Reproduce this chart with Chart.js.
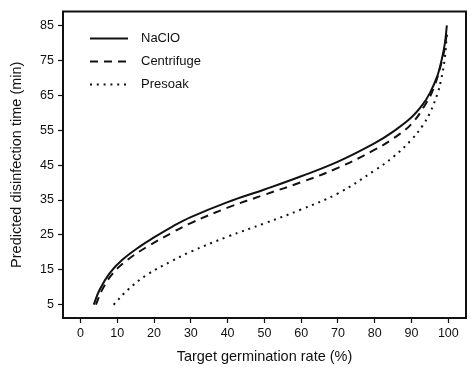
<!DOCTYPE html>
<html>
<head>
<meta charset="utf-8">
<script src="https://cdn.jsdelivr.net/npm/chart.js@4/dist/chart.umd.min.js"></script>
<style>
html,body{margin:0;padding:0;background:#fff;}
#wrap{width:476px;height:379px;}
</style>
</head>
<body>
<div id="wrap"><canvas id="c" width="476" height="379"></canvas></div>
<script>
const seriesNames = ["NaClO", "Centrifuge", "Presoak"];

const naclo_x = [3.6, 5.2, 7.9, 11.3, 16.3, 20, 25, 30, 40, 50, 60, 70, 80, 85, 90, 93, 95, 97, 98, 99, 99.6];
const naclo_y = [5, 9.3, 14, 17.8, 21.8, 24.3, 27.4, 30.1, 34.4, 38, 41.8, 46, 51.3, 54.6, 58.7, 62.3, 65.7, 70.5, 74.3, 79.5, 85];

const centrifuge_x = [4.2, 5.9, 8.8, 12.7, 18.1, 25, 30, 40, 50, 60, 70, 80, 85, 90, 94, 96, 98, 99, 99.7];
const centrifuge_y = [5, 9.3, 14, 17.8, 21.6, 25.7, 28.4, 32.8, 36.5, 40.1, 44.2, 49.4, 52.6, 56.8, 62.8, 67, 73.8, 78.5, 84];

const presoak_x = [9, 12.9, 18.1, 25, 30, 40, 50, 60, 70, 80, 85, 90, 93, 95, 97, 98, 99, 99.6];
const presoak_y = [5, 9.3, 13.6, 17.6, 20.2, 24.5, 28.3, 32.3, 36.9, 43.5, 47.3, 52.3, 56.3, 60, 65.3, 69.3, 75.3, 82.5];

const xTicks = [0, 10, 20, 30, 40, 50, 60, 70, 80, 90, 100];
const yTicks = [5, 15, 25, 35, 45, 55, 65, 75, 85];

function pts(xs, ys){ return xs.map((x,i)=>({x:x, y:ys[i]})); }

const styles = [
  {borderDash: [], borderWidth: 2, cap: 'butt'},
  {borderDash: [8, 6], borderWidth: 2, cap: 'butt'},
  {borderDash: [2, 4.8], borderWidth: 2, cap: 'butt'}
];

const FONT = "'Liberation Sans', Arial, Helvetica, sans-serif";
const INK = "#111";

const boxPlugin = {
  id: 'box',
  afterDraw(chart){
    const {ctx, chartArea: a} = chart;
    ctx.save();
    ctx.strokeStyle = INK;
    ctx.lineWidth = 2;
    ctx.strokeRect(a.left, a.top, a.right - a.left, a.bottom - a.top);
    // legend
    const lx0 = a.left + 27, lx1 = a.left + 65, tx = a.left + 78;
    const rows = [a.top + 27, a.top + 50, a.top + 73];
    ctx.font = "13px " + FONT;
    ctx.textBaseline = "middle";
    ctx.fillStyle = INK;
    chart.data.datasets.forEach((ds, i) => {
      ctx.beginPath();
      ctx.setLineDash(ds.borderDash);
      ctx.lineWidth = ds.borderWidth;
      ctx.lineCap = ds.borderCapStyle || 'butt';
      ctx.moveTo(lx0, rows[i]);
      ctx.lineTo(lx1, rows[i]);
      ctx.stroke();
      ctx.setLineDash([]);
      ctx.fillText(ds.label, tx, rows[i]);
    });
    ctx.restore();
  }
};

const datasets = [
  pts(naclo_x, naclo_y),
  pts(centrifuge_x, centrifuge_y),
  pts(presoak_x, presoak_y)
].map((d, i) => ({
  label: seriesNames[i],
  data: d,
  borderColor: INK,
  backgroundColor: INK,
  borderWidth: styles[i].borderWidth,
  borderDash: styles[i].borderDash,
  borderCapStyle: styles[i].cap,
  pointRadius: 0,
  fill: false,
  tension: 0.4
}));

new Chart(document.getElementById('c'), {
  type: 'line',
  data: { datasets },
  plugins: [boxPlugin],
  options: {
    responsive: false,
    animation: false,
    layout: { padding: { top: 9, right: 10, left: 0, bottom: 0 } },
    plugins: { legend: { display: false }, tooltip: { enabled: false } },
    scales: {
      x: {
        type: 'linear',
        min: -4.75,
        max: 104.8,
        afterBuildTicks(s){ s.ticks = xTicks.map(v => ({value: v})); },
        afterFit(s){ s.height = 61; },
        border: { display: false },
        grid: { display: true, drawOnChartArea: false, drawTicks: true, tickLength: 5, color: INK, tickColor: INK, tickWidth: 1.2 },
        ticks: { color: INK, font: { family: FONT, size: 12.5 }, padding: 3, maxRotation: 0, autoSkip: false },
        title: { display: true, text: 'Target germination rate (%)', color: INK, font: { family: FONT, size: 14.5 }, padding: { top: 0, bottom: 13 } }
      },
      y: {
        type: 'linear',
        min: 1.2,
        max: 89,
        afterBuildTicks(s){ s.ticks = yTicks.map(v => ({value: v})); },
        afterFit(s){ s.width = 63; },
        border: { display: false },
        grid: { display: true, drawOnChartArea: false, drawTicks: true, tickLength: 5, color: INK, tickColor: INK, tickWidth: 1.2 },
        ticks: { color: INK, font: { family: FONT, size: 12.5 }, padding: 4, autoSkip: false },
        title: { display: true, text: 'Predicted disinfection time (min)', color: INK, font: { family: FONT, size: 14.5 }, padding: { top: 8, bottom: 0 } }
      }
    }
  }
});
</script>
</body>
</html>
